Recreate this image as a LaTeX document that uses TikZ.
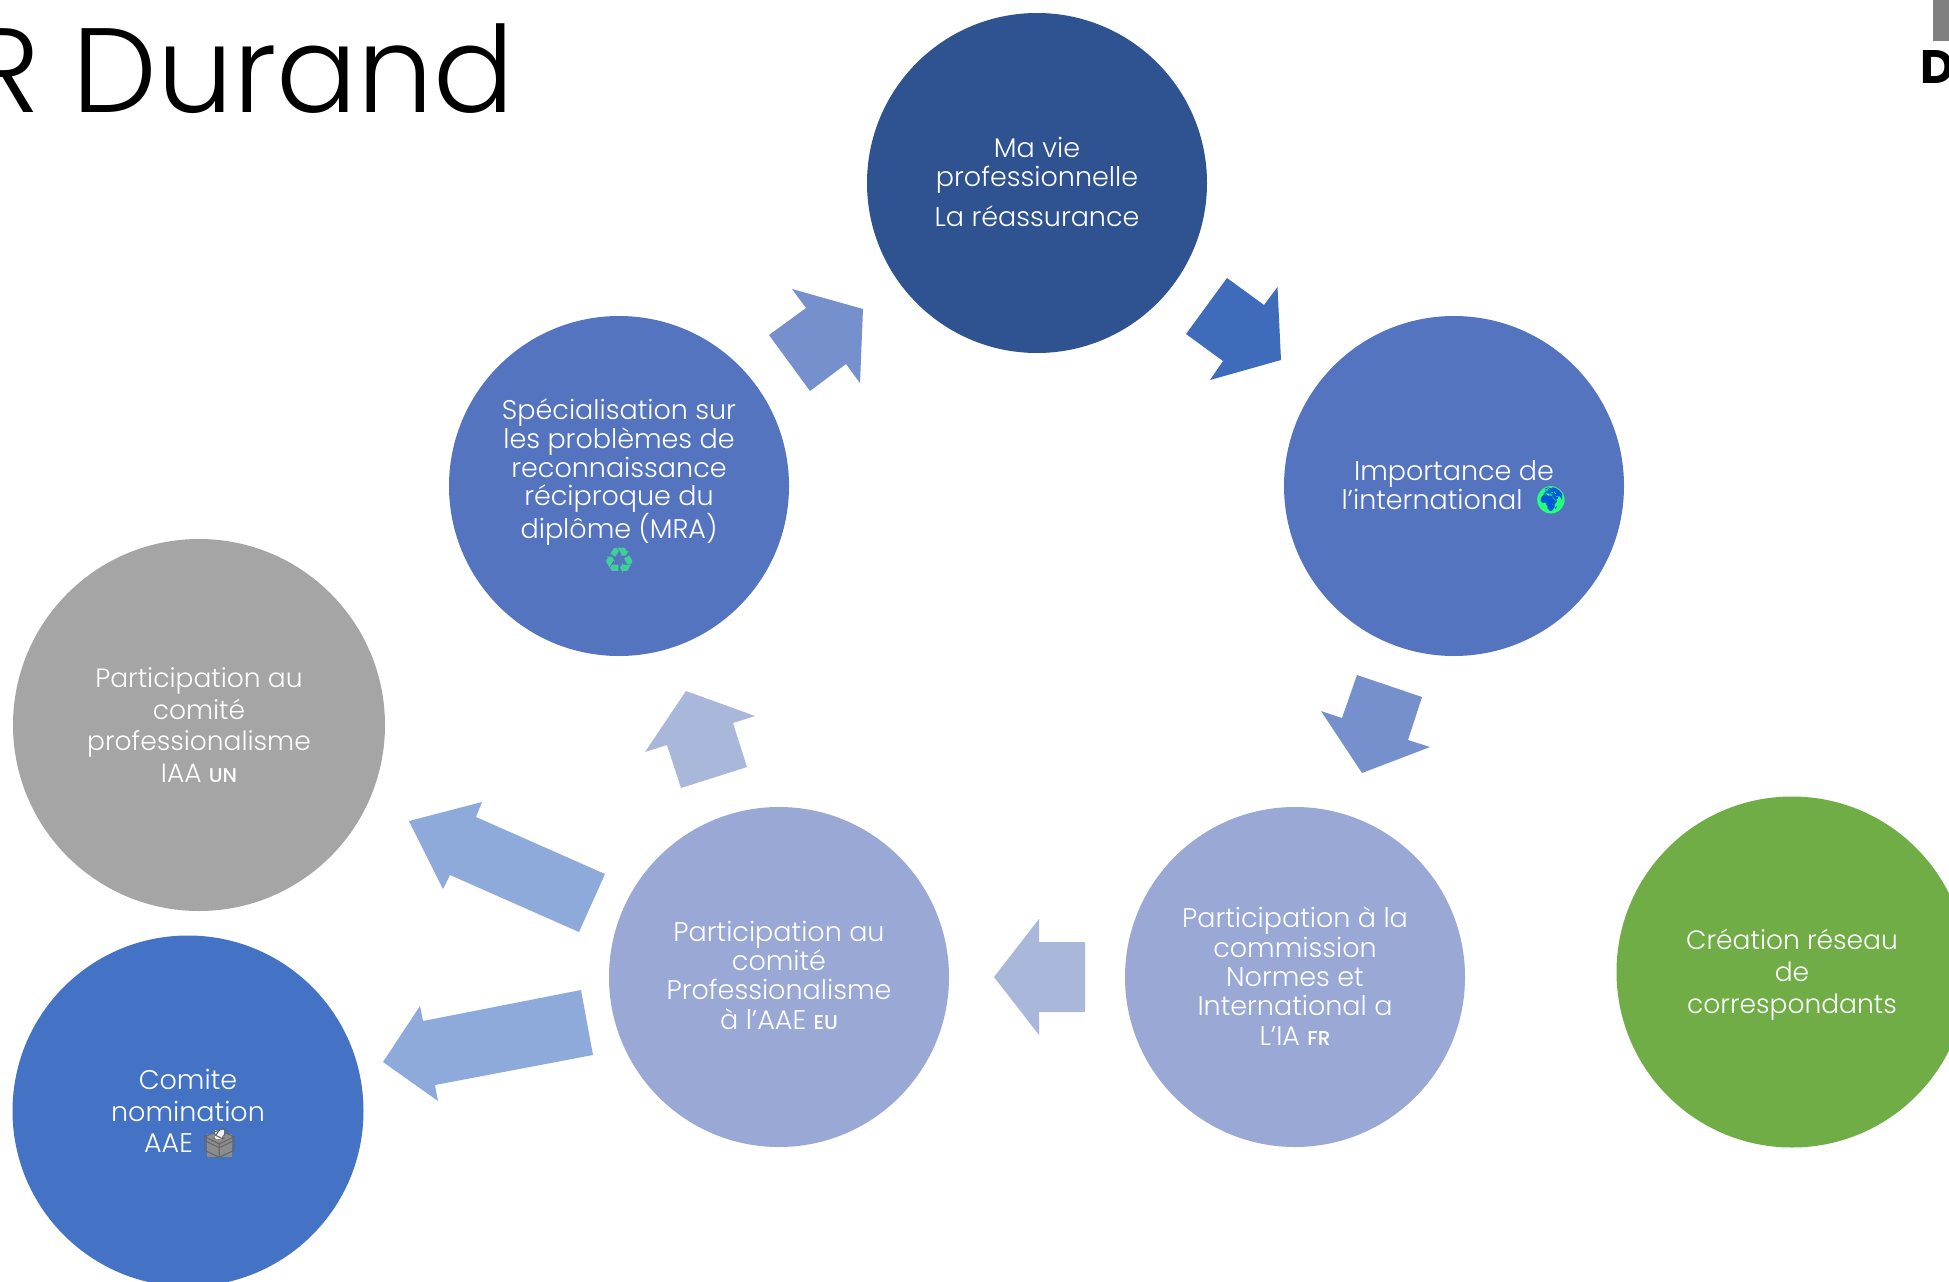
\documentclass[tikz,border=0pt]{standalone}
\usepackage{fontspec}
\setmainfont{Poppins}[UprightFont=* Light,BoldFont=* Medium]
\newfontfamily\emojifont{Noto Emoji}
\newfontfamily\dejavufont{DejaVu Sans}
\newfontfamily\heavyfont{Poppins}[UprightFont=* Bold]
\definecolor{cTop}{HTML}{2F5391}
\definecolor{cMid}{HTML}{5574BF}
\definecolor{cLight}{HTML}{99A8D5}
\definecolor{cGray}{HTML}{A5A5A5}
\definecolor{cBlue}{HTML}{4472C4}
\definecolor{cGreen}{HTML}{70AD47}
\definecolor{aDark}{HTML}{3F6CBA}
\definecolor{aMid}{HTML}{7690CD}
\definecolor{aLight}{HTML}{A9B7DB}
\definecolor{aBright}{HTML}{8EAADB}
\definecolor{cRecycle}{HTML}{3FD09A}
\tikzset{
 disc/.style={circle,inner sep=0pt,draw=none,minimum size=#1},
 lab/.style={text=white,align=center,inner sep=0pt,font=\fontsize{27}{28.6}\selectfont},
 labw/.style={text=white,align=center,inner sep=0pt,font=\fontsize{27}{29.3}\selectfont},
 labb/.style={text=white,align=center,inner sep=0pt,font=\fontsize{26.5}{31.8}\selectfont},
 blockarrow/.style={fill=#1,draw=none}
}
\newcommand{\tagtxt}[1]{{\bfseries\fontsize{20}{20}\selectfont #1}}
\begin{document}
\begin{tikzpicture}[x=1pt,y=-1pt]
\useasboundingbox (0,0) rectangle (1949,1282);
\fill[white] (0,0) rectangle (1949,1282);
% title
\node[anchor=base west,inner sep=0pt,font=\fontsize{120}{120}\selectfont] (title) at (-31,112) {R Durand};
\fill[black!50] (1933,0) rectangle (1949,41);
\node[anchor=base west,inner sep=0pt,font=\heavyfont\fontsize{47}{47}\selectfont] (corner) at (1920,83) {D};
% circles
\node[disc=340pt,fill=cTop] (top) at (1037,183) {};
\node[disc=340pt,fill=cMid] (right) at (1454,486) {};
\node[disc=340pt,fill=cLight] (br) at (1295,977) {};
\node[disc=340pt,fill=cLight] (bl) at (779,977) {};
\node[disc=340pt,fill=cMid] (left) at (619,486) {};
\node[disc=372pt,fill=cGray] (gray) at (199,725) {};
\node[disc=351pt,fill=cBlue] (low) at (188,1111) {};
\node[disc=351pt,fill=cGreen] (green) at (1792,972) {};
% arrows
\fill[blockarrow=aMid] (792,289)--(863,309)--(860,383)--(846,364)--(810,391)--(769,335)--(806,308)--cycle;
\fill[blockarrow=aDark] (1227,278)--(1264,305)--(1277.5,287)--(1281,360)--(1210,380)--(1223,361)--(1186,334)--cycle;
\fill[blockarrow=aMid] (1357,675)--(1422,697)--(1408,740)--(1430,747)--(1362,773)--(1321,711)--(1342,718)--cycle;
\fill[blockarrow=aLight] (686,691)--(755,716)--(733,723)--(747,767)--(681,788)--(667,745)--(645,752)--cycle;
\fill[blockarrow=aLight] (994,977)--(1039,919)--(1039,942)--(1085,942)--(1085,1012)--(1039,1012)--(1039,1035)--cycle;
\fill[blockarrow=aBright] (409,821)--(482,802)--(476,817)--(605,874)--(579,932)--(450,875)--(443,889)--cycle;
\fill[blockarrow=aBright] (383,1062)--(420,1006)--(423,1021)--(581,990)--(593,1055)--(435,1085)--(438,1101)--cycle;
% texts
\node[lab] (t1) at (1037,182) {Ma vie\\professionnelle\\[12pt]La réassurance};
\node[lab] (t2) at (1454,485) {Importance de\\l’international\hspace*{44pt}};
\node[labw] (t3) at (1295,976) {Participation à la\\commission\\Normes et\\International a\\L’IA \tagtxt{FR}};
\node[labw] (t4) at (779,975) {Participation au\\comité\\Professionalisme\\à l’AAE \tagtxt{EU}};
\node[lab] (t5) at (619,472.5) {Spécialisation sur\\les problèmes de\\reconnaissance\\réciproque du\\diplôme (MRA)};
\node[labb] (t6) at (199,725) {Participation au\\comité\\professionalisme\\IAA \tagtxt{UN}};
\node[labb] (t7) at (1792,975) {Création réseau\\de\\correspondants};
\node[labb,font=\fontsize{27}{31.8}\selectfont] (t8) at (188,1111) {Comite\\nomination\\AAE\hspace*{39pt}};
% emoji
\fill[blue!60!cyan!85!black] (1551,500) circle (13);
\node[inner sep=0pt,text=green!60!cyan!85!white,font=\emojifont\fontsize{27}{27}\selectfont] (globe) at (1551,500) {🌍};
\node[inner sep=0pt,text=cRecycle,font=\dejavufont\fontsize{36}{36}\selectfont] (recycle) at (620,561) {♻};
\fill[black!45] (207,1134) rectangle (232,1157);
\fill[white!90!gray] (215,1130) rectangle (224,1139);
\node[inner sep=0pt,text=black!60,font=\emojifont\fontsize{30}{30}\selectfont] (ballot) at (219.5,1143) {🗳};
\end{tikzpicture}
\end{document}
